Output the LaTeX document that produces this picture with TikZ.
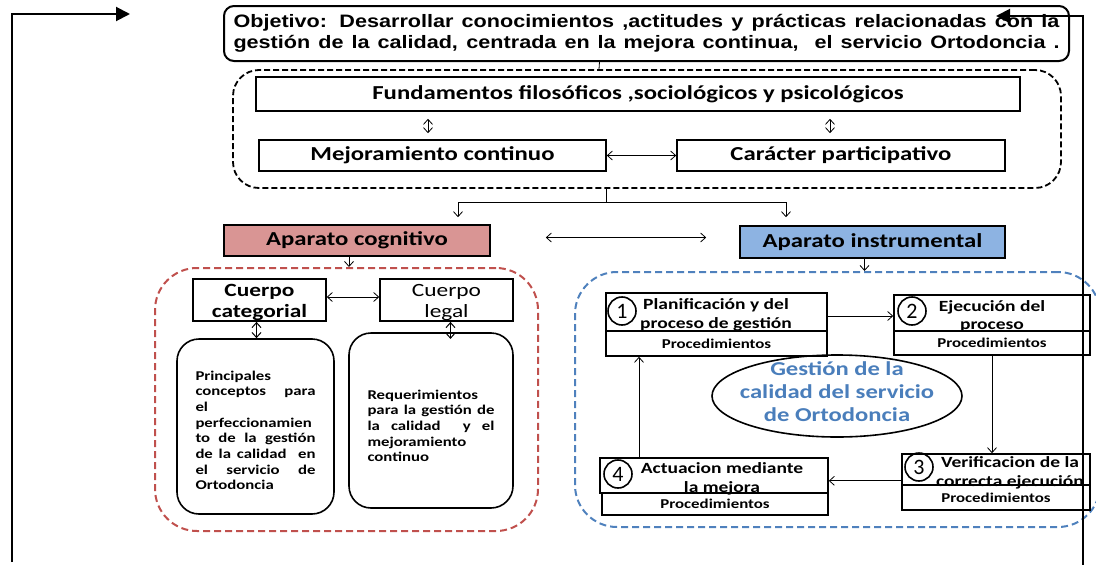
\documentclass[tikz,border=0pt]{standalone}
\usepackage{fontspec}
\setmainfont{Carlito}[FakeStretch=1.25]
\newfontfamily\arialf{Liberation Sans}[FakeStretch=1.2]
\newfontfamily\plaincal{Carlito}
\usetikzlibrary{arrows.meta,shapes.geometric,calc}
\definecolor{cogred}{HTML}{D99594}
\definecolor{instblue}{HTML}{8DB3E2}
\definecolor{dashred}{RGB}{192,80,77}
\definecolor{dashblue}{RGB}{79,129,189}
\definecolor{elltext}{RGB}{74,126,187}
\begin{document}
\begin{tikzpicture}[x=1pt,y=-1pt,
  sz/.style 2 args={minimum width=#1,minimum height=#2,inner sep=0pt},
  bx/.style={draw,line width=1.6pt},
  ar/.style={-{Straight Barb[length=5pt,width=9pt]},line width=0.8pt},
  dar/.style={{Straight Barb[length=5pt,width=9pt]}-{Straight Barb[length=5pt,width=9pt]},line width=0.8pt},
  big/.style={-{Triangle[length=14pt,width=14pt]},line width=2pt},
  num/.style={circle,draw,line width=1.6pt,minimum size=28pt,inner sep=0pt,font=\plaincal\fontsize{22}{22}\selectfont},
  ttl/.style={align=center,font=\bfseries\fontsize{15.6}{18.5}\selectfont},
  proc/.style={font=\bfseries\fontsize{13.5}{14}\selectfont},
  main/.style={font=\bfseries\fontsize{19.8}{22}\selectfont},
  body/.style={align=left,font=\bfseries\fontsize{13.4}{15.7}\selectfont}
]
\useasboundingbox (0,0) rectangle (1096,565);
% objective
\node[bx,line width=2pt,rounded corners=10pt,sz={845pt}{55pt},align=left,
  font=\arialf\bfseries\fontsize{18}{21}\selectfont] (obj) at (646.5,33.5)
  {\makebox[826pt][s]{Objetivo: Desarrollar conocimientos ,actitudes y pr\'acticas relacionadas con la}\\
   \makebox[826pt][s]{gesti\'on de la calidad, centrada en la mejora continua,\ \ el servicio Ortodoncia .}};
% dashed black group
\node[draw,line width=1.8pt,dash pattern=on 6pt off 3pt,rounded corners=26pt,sz={828pt}{118pt}] (grp) at (647,129) {};
\node[bx,sz={764pt}{34pt},main] (fund) at (638,94) {Fundamentos filos\'oficos ,sociol\'ogicos y psicol\'ogicos};
\node[bx,sz={347pt}{31pt},main] (mejor) at (432.5,155.5) {Mejoramiento continuo};
\node[bx,sz={328pt}{31pt},main] (caract) at (841,155.5) {Car\'acter participativo};
% aparatos
\node[bx,fill=cogred,sz={266pt}{31pt},main] (cog) at (357,240.5) {Aparato cognitivo};
\node[bx,fill=instblue,sz={265pt}{32pt},main] (inst) at (872.5,242) {Aparato instrumental};
% red group
\node[draw=dashred,line width=2pt,dash pattern=on 7pt off 4pt,rounded corners=42pt,sz={383pt}{263pt}] (red) at (346.5,399.5) {};
\node[bx,sz={133pt}{42pt},align=center,font=\bfseries\fontsize{18.7}{21}\selectfont] (ccat) at (259.5,300) {\rule{0pt}{18pt}Cuerpo\\categorial};
\node[bx,sz={133pt}{42pt},align=center,font=\fontsize{18.7}{21}\selectfont] (cleg) at (446.5,300) {\rule{0pt}{18pt}Cuerpo\\legal};
\node[bx,rounded corners=22pt,sz={157pt}{175pt},body] (princ) at (255.5,426.5)
 {\rule{0pt}{17pt}Principales\\
  \makebox[120pt][s]{conceptos para}\\
  el\\
  \makebox[120pt][s]{perfeccionamien}\\
  \makebox[120pt][s]{to de la gesti\'on}\\
  \makebox[120pt][s]{de la calidad\ \ en}\\
  \makebox[120pt][s]{el servicio de}\\
  Ortodoncia};
\node[bx,rounded corners=22pt,sz={164pt}{175pt},body] (requ) at (431,420.5)
 {\rule{0pt}{20pt}Requerimientos\\
  \makebox[127pt][s]{para la gesti\'on de}\\
  \makebox[127pt][s]{la calidad\ \ y el}\\
  mejoramiento\\
  continuo};
% blue group
\node[draw=dashblue,line width=2pt,dash pattern=on 7pt off 4pt,rounded corners=42pt,sz={525pt}{255pt}] (blue) at (837.5,399.5) {};
\node[bx,sz={221pt}{38pt}] (b1t) at (716.5,312) {};
\node[bx,sz={221pt}{25pt},proc] (b1b) at (716.5,343.5) {Procedimientos};
\node[bx,sz={196pt}{36pt}] (b2t) at (992,313) {};
\node[bx,sz={196pt}{24pt},proc] (b2b) at (992,343) {Procedimientos};
\node[bx,sz={188pt}{31pt}] (b3t) at (996,469.5) {};
\node[bx,sz={188pt}{25pt},proc] (b3b) at (996,497.5) {Procedimientos};
\node[bx,sz={228pt}{35pt}] (b4t) at (714,475.5) {};
\node[bx,sz={226pt}{22pt},proc] (b4b) at (715,504) {Procedimientos};
\node[ttl] (t1) at (716,315) {Planificaci\'on y del\\proceso de gesti\'on};
\node[ttl] (t2) at (992,316) {Ejecuci\'on del\\proceso};
\node[ttl] (t3) at (1010,473) {Verificacion de la\\correcta ejecuci\'on};
\node[ttl] (t4) at (722,479) {Actuacion mediante\\la mejora};
\node[num] (n1) at (622,311) {1};
\node[num] (n2) at (912,311) {2};
\node[num] (n3) at (919,467) {3};
\node[num] (n4) at (618,474) {4};
\node[ellipse,draw,line width=1.6pt,minimum width=250pt,minimum height=82pt,inner sep=0pt] (ell) at (837,396) {};
\node[align=center,text=elltext,font=\bfseries\fontsize{19.7}{23}\selectfont] (ellt) at (837,392) {Gesti\'on de la\\calidad del servicio\\de Ortodoncia};
% connectors top
\draw[line width=0.8pt] ([xshift=-47pt]obj.south) -- ([xshift=-48pt]grp.north);
\draw[dar,shorten <=7pt,shorten >=6pt] (fund.south -| 428,0) -- (mejor.north -| 428,0);
\draw[dar,shorten <=7pt,shorten >=6pt] (fund.south -| 830,0) -- (caract.north -| 830,0);
\draw[dar] (mejor.east) -- (caract.west);
\coordinate (split) at (606,202);
\draw[line width=0.8pt] ([xshift=-41pt]grp.south) -- (split);
\draw[ar,shorten >=7pt] (split) -| ([xshift=101pt]cog.north);
\draw[ar,shorten >=8pt] (split) -| ([xshift=-86.5pt]inst.north);
\draw[dar,shorten <=55pt,shorten >=33pt] ([yshift=3pt]cog.east) -- ([yshift=3pt]cog.east -| inst.west);
\draw[ar] ([xshift=-8pt]cog.south) -- ([xshift=-8pt]cog.south |- red.north);
\draw[ar] ([xshift=-8pt]inst.south) -- ([xshift=-8pt]inst.south |- blue.north);
% red group connectors
\draw[dar] ([yshift=3pt]ccat.east) -- ([yshift=3pt]cleg.west);
\draw[dar,line width=1pt] ([xshift=-3pt]ccat.south) -- ([xshift=-3pt]ccat.south |- princ.north);
\draw[dar,line width=1pt] ([xshift=4pt]cleg.south) -- ++(0,17);
% cycle
\draw[ar] ([yshift=-4pt]b1t.east) -- ([yshift=-4pt]b1t.east -| b2t.west);
\draw[ar] (b2b.south) -- (b2b.south |- b3t.north);
\draw[ar] ([yshift=5pt]b3t.south west) -- ([yshift=5pt]b3t.south west -| b4t.east);
\draw[ar] (b4t.north -| 639,0) -- (b1b.south -| 639,0);
% feedback lines
\coordinate (lb) at (12,562);
\coordinate (lt) at (130,14);
\draw[big] (lb) |- (lt);
\coordinate (rb) at (1083,565);
\coordinate (rt) at (996,16);
\draw[big] (rb) |- (rt);
\end{tikzpicture}
\end{document}
